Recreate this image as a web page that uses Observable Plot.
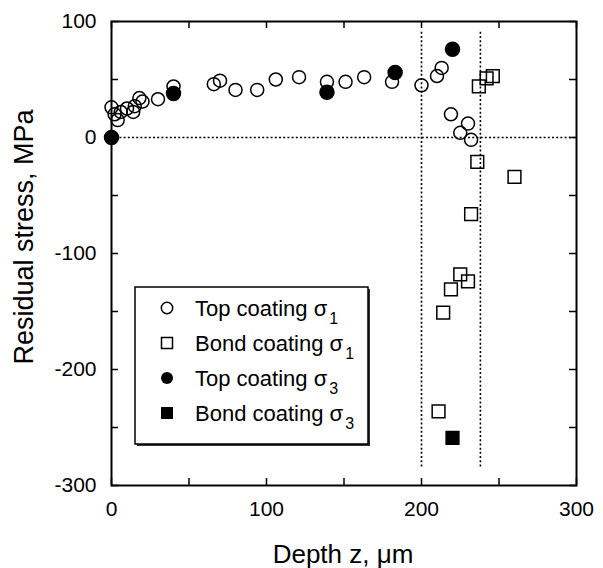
<!DOCTYPE html>
<html><head><meta charset="utf-8">
<script src="https://cdn.jsdelivr.net/npm/d3@7"></script>
<script src="https://cdn.jsdelivr.net/npm/@observablehq/plot@0.6"></script>
<style>
body{margin:0;background:#fff}
#chart{position:relative;width:603px;height:568px}
</style>
</head><body><div id="chart"></div>
<script>
// ---- data ----
const topSigma1Depth  = [0, 2, 4, 6, 10, 14, 15, 18, 20, 30, 40, 66, 70, 80, 94, 106, 121, 139, 151, 163, 181, 200, 210, 213, 219, 230, 225, 232];
const topSigma1Stress = [26, 20, 15, 22, 25, 22, 27, 34, 31, 33, 44, 46, 49, 41, 41, 50, 52, 48, 48, 52, 48, 45, 53, 60, 20, 12, 4, -2];
const topSigma3Depth  = [0, 40, 139, 183, 220];
const topSigma3Stress = [0, 38, 39, 56, 76];
const bondSigma1Depth  = [237, 242, 246, 236, 260, 232, 225, 230, 219, 214, 211];
const bondSigma1Stress = [44, 51, 53, -21, -34, -66, -118, -124, -131, -151, -236];
const bondSigma3Depth  = [220];
const bondSigma3Stress = [-259];
const refDepths = [200, 238];
const refStressRange = [-284, 92];
const xTicks = [0, 50, 100, 150, 200, 250, 300];
const xTickLabels = [0, 100, 200, 300];
const yTicks = [-300, -250, -200, -150, -100, -50, 0, 50, 100];
const yTickLabels = [-300, -200, -100, 0, 100];
const xTitle = "Depth z, μm";
const yTitle = "Residual stress, MPa";
const legendLabels = ["Top coating σ", "Bond coating σ", "Top coating σ", "Bond coating σ"];
const legendSubs = ["1", "1", "3", "3"];

const zip = (xs, ys) => xs.map((x, i) => ({depth: x, stress: ys[i]}));
const topS1 = zip(topSigma1Depth, topSigma1Stress);
const topS3 = zip(topSigma3Depth, topSigma3Stress);
const bondS1 = zip(bondSigma1Depth, bondSigma1Stress);
const bondS3 = zip(bondSigma3Depth, bondSigma3Stress);

const W = 603, H = 568, mL = 111, mR = 27, mT = 21, mB = 83;
const pw = W - mL - mR, ph = H - mT - mB, tk = 7;
const font = "'Liberation Sans', Arial, Helvetica, sans-serif";

const svg = Plot.plot({
  width: W, height: H,
  marginLeft: mL, marginRight: mR, marginTop: mT, marginBottom: mB,
  style: {fontFamily: font, fontSize: "21px", background: "white", color: "black", overflow: "visible"},
  x: {domain: [0, 300]},
  y: {domain: [-300, 100]},
  marks: [
    Plot.ruleY([0], {stroke: "black", strokeWidth: 1.6, strokeDasharray: "2,2.2"}),
    Plot.ruleX(refDepths, {x: d => d, y1: refStressRange[0], y2: refStressRange[1], stroke: "black", strokeWidth: 1.6, strokeDasharray: "2,2.2"}),
    // inward ticks on all four sides
    Plot.ruleX(xTicks, {x: d => d, insetTop: ph - tk, stroke: "black", strokeWidth: 1.5}),
    Plot.ruleX(xTicks, {x: d => d, insetBottom: ph - tk, stroke: "black", strokeWidth: 1.5}),
    Plot.ruleY(yTicks, {y: d => d, insetRight: pw - tk, stroke: "black", strokeWidth: 1.5}),
    Plot.ruleY(yTicks, {y: d => d, insetLeft: pw - tk, stroke: "black", strokeWidth: 1.5}),
    Plot.axisX(xTickLabels, {anchor: "bottom", tickSize: 0, tickPadding: 16, label: null, fontSize: 21, tickFormat: d => String(d)}),
    Plot.axisY(yTickLabels, {anchor: "left", tickSize: 0, tickPadding: 15, label: null, fontSize: 21, tickFormat: d => String(d)}),
    Plot.dot(topS1, {x: "depth", y: "stress", r: 6.5, stroke: "black", strokeWidth: 1.5, fill: "none"}),
    Plot.dot(bondS1, {x: "depth", y: "stress", r: 7.2, symbol: "square", stroke: "black", strokeWidth: 1.5, fill: "none"}),
    Plot.dot(topS3, {x: "depth", y: "stress", r: 7, fill: "black", stroke: "black"}),
    Plot.dot(bondS3, {x: "depth", y: "stress", r: 7.2, symbol: "square", fill: "black", stroke: "black"}),
    Plot.frame({stroke: "black", strokeWidth: 2})
  ]
});
document.getElementById("chart").appendChild(svg);

const s = d3.select(svg);
// axis titles
s.append("text").attr("x", 343).attr("y", 563).attr("text-anchor", "middle")
  .attr("font-family", font).attr("font-size", 26).attr("fill", "black").text(xTitle);
s.append("text").attr("transform", "translate(33,237) rotate(-90)").attr("text-anchor", "middle")
  .attr("font-family", font).attr("font-size", 27).attr("fill", "black").text(yTitle);

// legend
const lg = s.append("g");
const bx = 135, by = 287, bw = 233, bh = 157;
lg.append("rect").attr("x", bx + 2).attr("y", by + 2).attr("width", bw).attr("height", bh).attr("fill", "#333");
lg.append("rect").attr("x", bx).attr("y", by).attr("width", bw).attr("height", bh)
  .attr("fill", "white").attr("stroke", "black").attr("stroke-width", 1.5);
const rows = [308, 343, 378, 413];
const sx = 167;
const sym = [
  g => g.append("circle").attr("r", 5.7).attr("fill", "none").attr("stroke", "black").attr("stroke-width", 1.5),
  g => g.append("rect").attr("x", -5.5).attr("y", -5.5).attr("width", 11).attr("height", 11).attr("fill", "none").attr("stroke", "black").attr("stroke-width", 1.5),
  g => g.append("circle").attr("r", 6).attr("fill", "black"),
  g => g.append("rect").attr("x", -6).attr("y", -6).attr("width", 12).attr("height", 12).attr("fill", "black")
];
rows.forEach((ry, i) => {
  const g = lg.append("g").attr("transform", `translate(${sx},${ry})`);
  sym[i](g);
  const t = lg.append("text").attr("x", 195).attr("y", ry + 8).attr("text-anchor", "start")
    .attr("font-family", font).attr("font-size", 22).attr("fill", "black");
  t.append("tspan").text(legendLabels[i]);
  t.append("tspan").attr("dy", 8).attr("dx", 2).attr("font-size", 16).text(legendSubs[i]);
});
</script>
</body></html>
